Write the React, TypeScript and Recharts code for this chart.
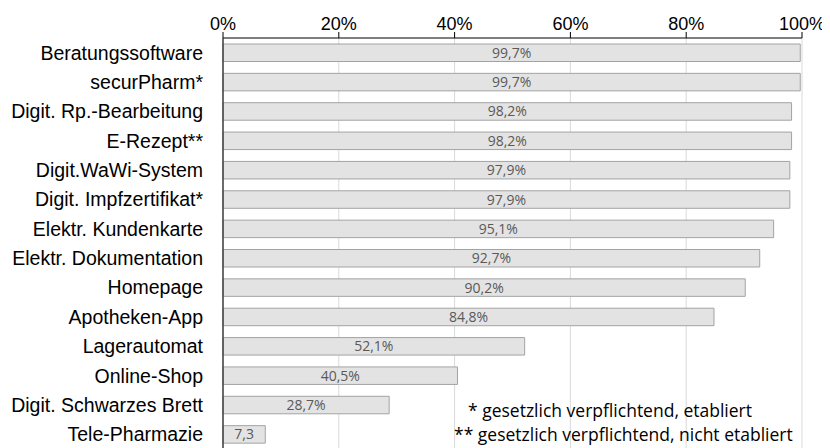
import React from "react";
import { BarChart, Bar, XAxis, YAxis, CartesianGrid, LabelList } from "recharts";

const categories = [
  "Beratungssoftware",
  "securPharm*",
  "Digit. Rp.-Bearbeitung",
  "E-Rezept**",
  "Digit.WaWi-System",
  "Digit. Impfzertifikat*",
  "Elektr. Kundenkarte",
  "Elektr. Dokumentation",
  "Homepage",
  "Apotheken-App",
  "Lagerautomat",
  "Online-Shop",
  "Digit. Schwarzes Brett",
  "Tele-Pharmazie",
];

const values = [99.7, 99.7, 98.2, 98.2, 97.9, 97.9, 95.1, 92.7, 90.2, 84.8, 52.1, 40.5, 28.7, 7.3];

const valueLabels = [
  "99,7%", "99,7%", "98,2%", "98,2%", "97,9%", "97,9%", "95,1%",
  "92,7%", "90,2%", "84,8%", "52,1%", "40,5%", "28,7%", "7,3",
];

const xTicks = [0, 20, 40, 60, 80, 100];

const footnotes = [
  "* gesetzlich verpflichtend, etabliert",
  "** gesetzlich verpflichtend, nicht etabliert",
];

const data = categories.map((name, i) => ({ name, value: values[i], label: valueLabels[i] }));

export default function App() {
  const W = 822;
  const H = 460;
  return (
    <div style={{ position: "relative", width: W, height: H }}>
      <BarChart
        width={W}
        height={H}
        data={data}
        layout="vertical"
        margin={{ top: 0, right: 28, bottom: 19, left: 0 }}
        barSize={17.5}
      >
        <CartesianGrid horizontal={false} vertical={true} stroke="#d9d9d9" strokeWidth={1} />
        <XAxis
          type="number"
          orientation="top"
          domain={[0, 100]}
          ticks={xTicks}
          tickFormatter={(v: number) => `${v}%`}
          height={30}
          tickSize={6}
          tickMargin={2}
          axisLine={{ stroke: "#000", strokeWidth: 1 }}
          tickLine={{ stroke: "#000" }}
          tick={{ fill: "#000", fontSize: 18, fontFamily: "Liberation Sans, Arial, sans-serif" }}
          interval={0}
        />
        <YAxis
          type="category"
          dataKey="name"
          width={215}
          tickLine={false}
          tickSize={0}
          tickMargin={20}
          axisLine={{ stroke: "#404040", strokeWidth: 1.5 }}
          tick={{ fill: "#000", fontSize: 19.5, fontFamily: "Liberation Sans, Arial, sans-serif" }}
          interval={0}
        />
        <Bar dataKey="value" fill="#e3e3e3" stroke="#a3a3a3" strokeWidth={1} isAnimationActive={false}>
          <LabelList
            dataKey="label"
            position="center"
            fill="#595959"
            fontSize={14}
            fontFamily="Open Sans, sans-serif"
          />
        </Bar>
      </BarChart>
      <svg
        width={W}
        height={H}
        style={{ position: "absolute", left: 0, top: 0, pointerEvents: "none" }}
      >
        <text x={460} y={409} fontSize={17.5} fontFamily="Open Sans, sans-serif" fill="#000">
          {footnotes[0]}
        </text>
        <text x={446} y={433} fontSize={17.5} fontFamily="Open Sans, sans-serif" fill="#000">
          {footnotes[1]}
        </text>
      </svg>
    </div>
  );
}
